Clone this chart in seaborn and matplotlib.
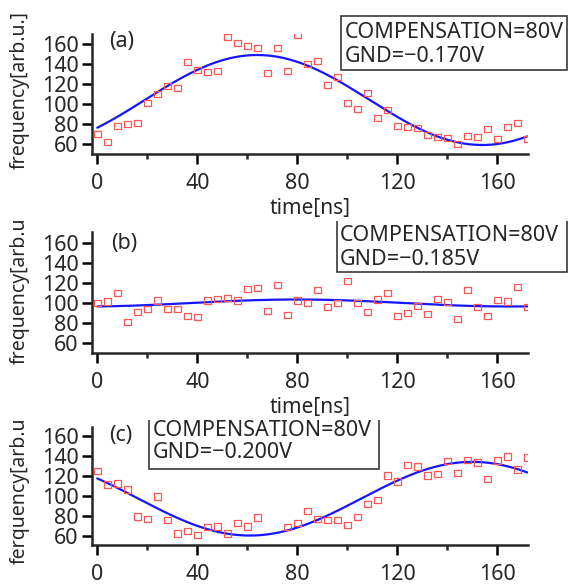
import numpy as np
import seaborn as sns
import matplotlib.pyplot as plt
from matplotlib.patches import Rectangle
from matplotlib.transforms import Bbox, TransformedBbox

# measured time points (ns)
time_ab = list(range(0, 173, 4))
time_c = [t for t in range(0, 173, 4) if t not in (68, 72)]

freq_a = [70, 62, 78, 80, 81, 101, 110, 118, 116, 142, 134, 132, 133, 167, 161, 158,
          156, 131, 156, 133, 169, 140, 143, 119, 127, 101, 95, 111, 86, 94, 78, 77,
          76, 69, 67, 66, 60, 68, 67, 75, 65, 77, 81, 65]
freq_b = [100, 101.5, 110, 81, 91, 94, 102.5, 94, 94, 87, 86, 102.5, 104, 105, 102.5, 114,
          115, 92, 118, 88, 102.5, 100, 113, 96, 100, 122, 100, 91, 103.5, 110, 87, 90,
          97, 89, 104, 101, 84, 113, 96, 87, 103, 101.5, 116, 96]
freq_c = [125, 111, 112.5, 106, 79, 76.5, 99, 75.5, 62, 64.5, 60.5, 68.5, 69, 62, 72.5, 69,
          78, 68.5, 72.5, 84.5, 76.5, 75.5, 75.5, 70.5, 78.5, 91.5, 95.5, 120.5, 114.5, 131,
          129.5, 120.5, 122, 135, 123, 136, 133.5, 117, 135.5, 139.5, 126.5, 138.5]

# fitted sine: offset, amplitude, period (ns), time of peak (ns)
fit_a = (104, 45, 180, 64)
fit_b = (100, 3.5, 170, 80)
fit_c = (97, 37, 178, 150)

panel_labels = ["(a)", "(b)", "(c)"]
comp_text = "COMPENSATION=80V"
gnd_text = ["GND=\u22120.170V", "GND=\u22120.185V", "GND=\u22120.200V"]
ylabels = ["frequency[arb.u.]", "frequency[arb.u.]", "ferquency[arb.u.]"]

sns.set_style("ticks")
plt.rcParams["font.family"] = ["Noto Sans", "DejaVu Sans"]

W, H = 568, 586
fig = plt.figure(figsize=(W / 100, H / 100), dpi=100)


def fx(x):
    return x / W


def fy(y):
    return 1 - y / H


def clip_rows(top, bottom):
    return TransformedBbox(Bbox.from_extents(0, fy(bottom), 1, fy(top)), fig.transFigure)


# pixel layout of each panel: axes top/bottom, ylim, visible rows of the strip
panels = [
    dict(t=time_ab, f=freq_a, fit=fit_a, top=34, bottom=154, ylim=(50, 170), rows=(0, 220),
         box=(340.7, 15.7, 567, 70), txt=(345, 32, 56.5), lab=(9.6, 163), ylab_y=90),
    dict(t=time_ab, f=freq_b, fit=fit_b, top=232, bottom=353, ylim=(50, 171), rows=(221, 419),
         box=(336.7, 212, 567, 271.7), txt=(340, 235, 259.5), lab=(11, 159.5), ylab_y=285),
    dict(t=time_c, f=freq_c, fit=fit_c, top=427, bottom=545, ylim=(50.5, 169), rows=(420, 586),
         box=(148.5, 410, 379, 468.5), txt=(153, 430, 452.5), lab=(9.6, 160), ylab_y=485),
]

left, right = 92, 528
for i, p in enumerate(panels):
    ax = fig.add_axes([fx(left), fy(p["bottom"]), fx(right - left), (p["bottom"] - p["top"]) / H])
    off, amp, per, peak = p["fit"]
    tt = np.linspace(0, 172, 400)
    sns.lineplot(x=tt, y=off + amp * np.cos(2 * np.pi * (tt - peak) / per),
                 color="#1515ff", lw=1.6, ax=ax)
    sns.scatterplot(x=p["t"], y=p["f"], marker="s", s=22, color="#ff5555",
                    facecolor="none", edgecolor="#ff5555", linewidth=0.9, ax=ax, zorder=3)
    ax.set_xlim(-2.1, 172.3)
    ax.set_ylim(*p["ylim"])
    ax.set_xticks([0, 40, 80, 120, 160])
    ax.set_xticks([20, 60, 100, 140], minor=True)
    ax.set_yticks(range(60, 161, 20))
    sns.despine(ax=ax)
    for s in ["left", "bottom"]:
        ax.spines[s].set_linewidth(1.8)
    ax.tick_params(axis="both", which="major", direction="out", length=7.5, width=1.8,
                   labelsize=15.5, color="black")
    ax.tick_params(axis="x", which="major", pad=6)
    ax.tick_params(axis="y", which="major", pad=2)
    ax.tick_params(axis="x", which="minor", direction="out", length=3.5, width=1.8)
    if i < 2:
        ax.set_xlabel("time[ns]", fontsize=15, labelpad=3)
    else:
        ax.set_xlabel("")
    ax.set_ylabel("")
    ax.text(p["lab"][0], p["lab"][1], panel_labels[i], fontsize=15.5, ha="center", va="center")

    clip = clip_rows(*p["rows"])
    x0, y0, x1, y1 = p["box"]
    rect = Rectangle((fx(x0), fy(y1)), fx(x1 - x0), (y1 - y0) / H, transform=fig.transFigure,
                     fill=False, edgecolor="#3a3a3a", lw=1.2)
    fig.add_artist(rect)
    rect.set_clip_box(clip)
    tx, ty1, ty2 = p["txt"]
    fig.text(fx(tx), fy(ty1), comp_text, fontsize=15.5, ha="left", va="center")
    fig.text(fx(tx), fy(ty2), gnd_text[i], fontsize=15.5, ha="left", va="center")

    yl = fig.text(fx(20), fy(p["ylab_y"]), ylabels[i], fontsize=14, rotation=90,
                  ha="center", va="center")
    yl.set_clip_box(clip)
    yl.set_clip_on(True)

fig.savefig("out.png", dpi=100)
